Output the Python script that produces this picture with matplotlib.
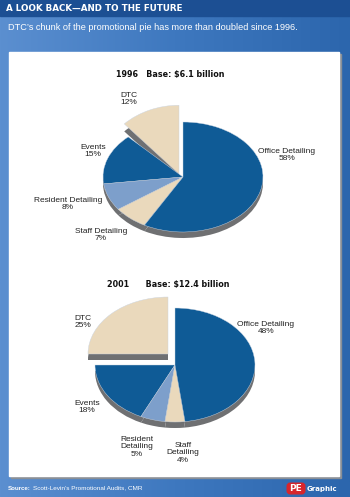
import matplotlib.pyplot as plt
import numpy as np
from matplotlib.patches import Rectangle, FancyBboxPatch
from matplotlib.colors import LinearSegmentedColormap
from matplotlib.transforms import Affine2D

# Данные диаграмм
categories = ['DTC', 'Events', 'Resident Detailing', 'Staff Detailing', 'Office Detailing']
share_1996 = [12, 15, 8, 7, 58]
share_2001 = [25, 18, 5, 4, 48]
labels_1996 = ['DTC\n12%', 'Events\n15%', 'Resident Detailing\n8%',
               'Staff Detailing\n7%', 'Office Detailing\n58%']
labels_2001 = ['DTC\n25%', 'Events\n18%', 'Resident\nDetailing\n5%',
               'Staff\nDetailing\n4%', 'Office Detailing\n48%']
title_1996 = '1996   Base: $6.1 billion'
title_2001 = '2001      Base: $12.4 billion'

colors = ['#ead9bc', '#0f5b96', '#7d9fcb', '#ead9bc', '#0f5b96']
shadow = '#6f7072'
narrow = 'DejaVu Sans Condensed'

W, H = 350, 497
fig = plt.figure(figsize=(W / 100, H / 100), dpi=100)

# Фон: синий градиент
bg = fig.add_axes([0, 0, 1, 1])
grad = np.linspace(0, 1, 256).reshape(1, -1)
bg.imshow(grad, cmap=LinearSegmentedColormap.from_list(
    'bg', ['#5b8fd0', '#3e78bf', '#2c66ad']), aspect='auto',
    extent=(0, W, H, 0))
bg.set_xlim(0, W)
bg.set_ylim(H, 0)
bg.axis('off')
bg.add_patch(Rectangle((0, 0), W, 16, color='#1c4f93'))
bg.text(6, 8.5, 'A LOOK BACK—AND TO THE FUTURE', color='white', fontsize=6.3,
        fontweight='bold', family=narrow, va='center')
bg.text(8, 27, 'DTC’s chunk of the promotional pie has more than doubled since 1996.',
        color='white', fontsize=6.6, va='center', family='Liberation Sans')
# белая панель с тенью
bg.add_patch(Rectangle((11, 54), 330, 424, color='#8a8f96'))
bg.add_patch(Rectangle((9, 52), 330, 424, color='white'))
bg.text(31, 488, 'Source:', color='white', fontsize=4.4, fontweight='bold',
        va='center', ha='right', family='Liberation Sans')
bg.text(33, 488, 'Scott-Levin’s Promotional Audits, CMR', color='white',
        fontsize=4.6, va='center', family='Liberation Sans')
bg.add_patch(FancyBboxPatch((288, 484), 16, 9, boxstyle='round,pad=0.8,rounding_size=3',
                            color='#d8252c'))
bg.text(296, 488.5, 'PE', color='white', fontsize=6.5, fontweight='bold',
        ha='center', va='center', family='DejaVu Sans')
bg.text(307, 488.5, 'Graphic', color='white', fontsize=5, fontweight='bold',
        va='center', family='DejaVu Sans')


def draw_pie(cx, cy, rx, ry, top, bottom, values, labels, label_xy, title,
             title_xy, shift, stretch):
    ax = fig.add_axes([0, 1 - bottom / H, 1, (bottom - top) / H])
    # "толщина" пирога
    sh, _ = ax.pie(values, colors=[shadow] * len(values), startangle=90,
                   center=(0, -6 / ry), wedgeprops={'linewidth': 0})
    wedges, _ = ax.pie(values, colors=colors, startangle=90,
                       wedgeprops={'linewidth': 0.3, 'edgecolor': '#c9d4e2'})
    ax.set_aspect('auto')
    ax.set_xlim(-cx / rx, (W - cx) / rx)
    ax.set_ylim((cy - bottom) / ry, (cy - top) / ry)
    ax.axis('off')
    # выдвинутый сектор DTC
    move = Affine2D().scale(1, stretch).translate(shift[0] / rx, shift[1] / ry)
    for w in (sh[0], wedges[0]):
        w.set_transform(move + ax.transData)
    for lab, (px, py) in zip(labels, label_xy):
        ax.text((px - cx) / rx, (cy - py) / ry, lab, ha='center', va='center',
                fontsize=6, color='#222222', family='Liberation Sans',
                linespacing=1.1)
    ax.text((title_xy[0] - cx) / rx, (cy - title_xy[1]) / ry, title,
            ha='center', va='center', fontsize=5.8, fontweight='bold',
            family=narrow, color='#111111')


draw_pie(183, 177, 80, 55, 60, 270, share_1996, labels_1996,
         [(129, 99), (93, 151), (68, 204), (101, 235), (287, 155)],
         title_1996, (170, 75), (-4, 3), 1.25)
draw_pie(175, 365, 80, 57, 272, 474, share_2001, labels_2001,
         [(83, 322), (87, 407), (137, 447), (183, 453), (266, 328)],
         title_2001, (168, 284), (-7, 11), 1.0)

fig.savefig('out.png', dpi=100)
